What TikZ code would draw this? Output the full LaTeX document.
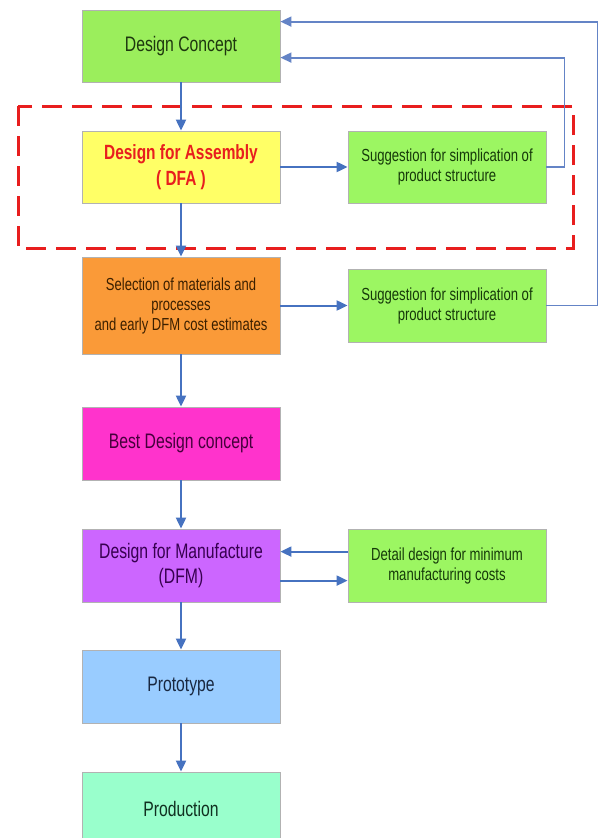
\documentclass[tikz,border=0pt]{standalone}
\usepackage{fontspec}
\setmainfont{Liberation Sans}[FakeStretch=0.75]
\usetikzlibrary{arrows.meta,calc}
\definecolor{arrowblue}{RGB}{70,114,192}
\definecolor{fbblue}{RGB}{100,132,198}
\definecolor{dashred}{RGB}{232,30,30}
\definecolor{cDC}{RGB}{155,238,92}
\definecolor{cSug}{RGB}{156,246,98}
\definecolor{cDFA}{RGB}{255,255,102}
\definecolor{cOr}{RGB}{250,154,56}
\definecolor{cBest}{RGB}{255,51,204}
\definecolor{cDFM}{RGB}{204,102,255}
\definecolor{cProto}{RGB}{153,204,255}
\definecolor{cProd}{RGB}{153,255,204}
\begin{document}
\begin{tikzpicture}[x=1pt,y=-1pt,
  box/.style={draw=gray!60, line width=0.8pt, minimum width=198pt, minimum height=72pt,
    align=center, inner sep=2pt, font=\fontsize{21}{25}\selectfont},
  sugbox/.style={box, font=\fontsize{17.5}{20}\selectfont, fill=cSug, text={rgb,255:red,22;green,58;blue,10}},
  flow/.style={draw=arrowblue, line width=2pt, -{Triangle[length=11pt,width=10pt]}},
  fb/.style={draw=fbblue, line width=1.8pt, -{Triangle[length=11pt,width=10pt]}}]
\fill[white] (0,0) rectangle (600,838);
\useasboundingbox (0,0) rectangle (600,838);
\clip (0,0) rectangle (600,838);

\node[box, fill=cDC, text={rgb,255:red,30;green,55;blue,15}] (dc) at (181,46) {Design Concept};
\node[box, fill=cDFA, text=dashred, font=\fontsize{20.6}{26}\selectfont\bfseries] (dfa) at (181,167) {Design for Assembly\\( DFA )};
\node[box, fill=cOr, minimum height=97pt, text={rgb,255:red,60;green,32;blue,0}, font=\fontsize{17.4}{20}\selectfont] (sel) at (181,305.5) {Selection of materials and\\processes\\and early DFM cost estimates};
\node[box, fill=cBest, minimum height=73pt, text={rgb,255:red,70;green,0;blue,60}] (best) at (181,443.5) {Best Design concept};
\node[box, fill=cDFM, minimum height=73pt, text={rgb,255:red,55;green,0;blue,80}] (dfm) at (181,565.5) {Design for Manufacture\\(DFM)};
\node[box, fill=cProto, minimum height=73pt, text={rgb,255:red,25;green,40;blue,64}] (proto) at (181,686.5) {Prototype};
\node[box, fill=cProd, minimum height=73pt, text={rgb,255:red,16;green,48;blue,32}] (prod) at (181,808.5) {Production};

\node[sugbox] (s1) at (447,167) {Suggestion for simplication of\\product structure};
\node[sugbox, minimum height=73pt] (s2) at (447,305.5) {Suggestion for simplication of\\product structure};
\node[sugbox, minimum height=73pt] (s3) at (447,565.5) {Detail design for minimum\\manufacturing costs};

% red dashed frame
\draw[dashred, line width=3pt, dash pattern=on 20pt off 10pt] (18,106) rectangle (573,248);

% main flow
\draw[flow] (dc) -- (dfa);
\draw[flow] (dfa) -- (sel);
\draw[flow] (sel) -- (best);
\draw[flow] (best) -- (dfm);
\draw[flow] (dfm) -- (proto);
\draw[flow] (proto) -- (prod);

% side arrows
\draw[flow] (dfa.east) -- (s1.west);
\draw[flow] (sel.east |- s2.west) -- (s2.west);
\draw[flow] ($(s3.north west)+(0,23)$) -- ($(dfm.north east)+(0,23)$);
\draw[flow] ($(dfm.north east)+(0,52)$) -- ($(s3.north west)+(0,52)$);

% feedback loops
\draw[fb] (s1.east) -- ++(18,0) |- ($(dc.north east)+(0,48)$);
\draw[fb] (s2.east) -- ++(51,0) |- ($(dc.north east)+(0,12)$);
\end{tikzpicture}
\end{document}
